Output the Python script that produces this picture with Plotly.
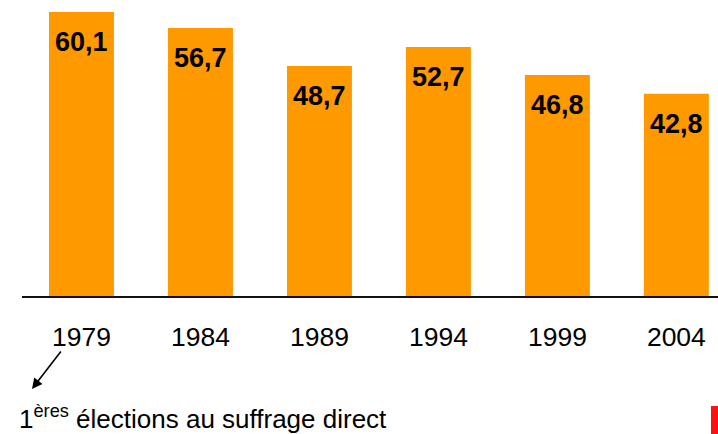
import plotly.graph_objects as go

years = ["1979", "1984", "1989", "1994", "1999", "2004"]
turnout = [60.1, 56.7, 48.7, 52.7, 46.8, 42.8]
labels = [f"{v:.1f}".replace(".", ",") for v in turnout]

FONT = "Liberation Sans, Arial, sans-serif"
W, H = 718, 434
ML, MB = 22, 138
PW, PH = W - ML, H - MB

def px(x):
    return (x - ML) / PW

def py(y):
    return (PH - y) / PH

fig = go.Figure()
fig.add_trace(go.Bar(
    x=years, y=turnout,
    marker=dict(color="#FF9900", line=dict(width=0)),
    width=0.546,
    hoverinfo="skip",
))

for i, (v, lab) in enumerate(zip(turnout, labels)):
    fig.add_annotation(
        x=i, y=v, text=f"<b>{lab}</b>", showarrow=False,
        yanchor="middle", yshift=-30,
        font=dict(family=FONT, size=27, color="black"),
    )

# arrow pointing from 1979 to the note
fig.add_annotation(
    xref="paper", yref="paper", x=px(32), y=py(389),
    ax=30, ay=-39, text="", showarrow=True,
    arrowhead=2, arrowsize=1.3, arrowwidth=1.6, arrowcolor="black",
)
fig.add_annotation(
    xref="paper", yref="paper", x=px(17), y=py(417),
    xanchor="left", yanchor="middle", showarrow=False,
    text="1<sup>ères</sup> élections au suffrage direct",
    font=dict(family=FONT, size=26, color="black"),
)
fig.add_shape(
    type="rect", xref="paper", yref="paper",
    x0=px(711), x1=px(718), y0=py(406), y1=py(434),
    fillcolor="#FF1111", line=dict(width=0), layer="above",
)

fig.update_layout(
    width=W, height=H,
    margin=dict(l=ML, r=0, t=0, b=MB),
    paper_bgcolor="white", plot_bgcolor="white",
    showlegend=False,
    font=dict(family=FONT, color="black"),
    bargap=0.454,
)
fig.update_xaxes(
    type="category", range=[-0.5, 5.35],
    showline=True, linecolor="#111", linewidth=2,
    showgrid=False, ticks="", ticklabelstandoff=16,
    tickfont=dict(family=FONT, size=26.5, color="black"),
)
fig.update_yaxes(
    range=[0, 62.65], visible=False, showgrid=False, zeroline=False,
)

fig.write_html(
    "out.html",
    config={"displayModeBar": False},
    post_script="document.body.style.margin='0';document.body.style.overflow='hidden';",
)
